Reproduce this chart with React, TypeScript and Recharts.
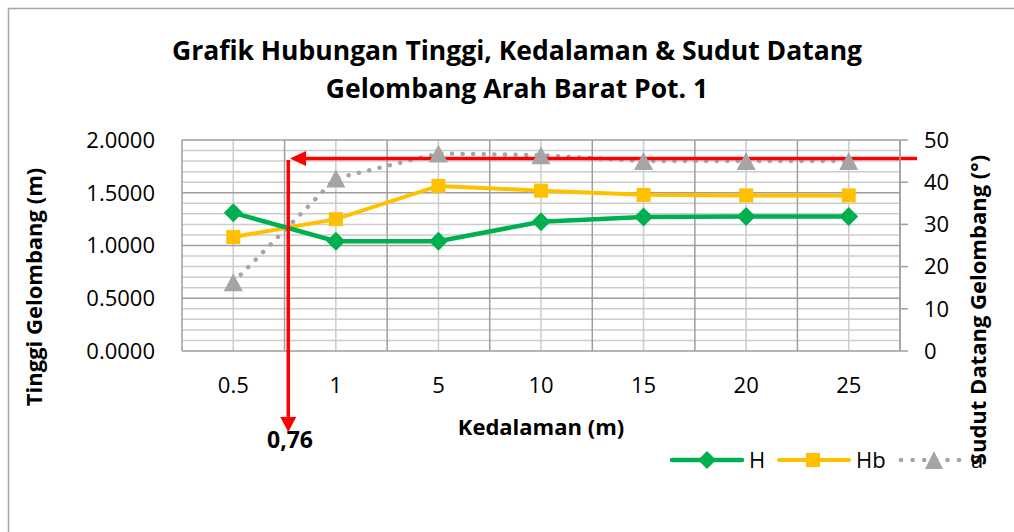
import React from 'react';
import {
  ComposedChart, Line, XAxis, YAxis, CartesianGrid, ReferenceLine, Customized,
} from 'recharts';

const categories = ['0.5', '1', '5', '10', '15', '20', '25'];
const hValues = [1.31, 1.04, 1.04, 1.225, 1.27, 1.275, 1.275];
const hbValues = [1.08, 1.25, 1.565, 1.52, 1.48, 1.475, 1.475];
const aValues = [16.3, 40.9, 46.8, 46.4, 45, 45, 45];

const leftTicks = [0, 0.5, 1, 1.5, 2];
const leftMinor = [0.1, 0.2, 0.3, 0.4, 0.6, 0.7, 0.8, 0.9, 1.1, 1.2, 1.3, 1.4, 1.6, 1.7, 1.8, 1.9];
const rightTicks = [0, 10, 20, 30, 40, 50];
const categoryIdx = [0, 1, 2, 3, 4, 5, 6];
const boundaries = [-0.5, 0.5, 1.5, 2.5, 3.5, 4.5, 5.5, 6.5];

// annotation: horizontal arrow at level, vertical arrow at 0,76 position
const annotLevel = 1.825;
const annotX = 0.536;
const annotTipX = 0.553;
const annotRightX = 6.666;
const annotTopY = 1.81;
const annotBottomY = -0.768;

const data = categories.map((c, i) => ({
  depth: c,
  idx: categoryIdx[i],
  H: hValues[i],
  Hb: hbValues[i],
  a: aValues[i],
}));

const FONT = '"Open Sans", sans-serif';
const GREEN = '#00b050';
const YELLOW = '#ffc000';
const GRAY = '#a5a5a5';
const RED = '#ff0000';

const Diamond = (p: any) => {
  const { cx, cy, index } = p;
  if (cx == null || cy == null) return <g key={`dm-${index}`} />;
  const r = 9.5;
  return (
    <path key={`dm-${index}`} d={`M${cx},${cy - r} L${cx + r},${cy} L${cx},${cy + r} L${cx - r},${cy} Z`} fill={GREEN} />
  );
};
const Square = (p: any) => {
  const { cx, cy, index } = p;
  if (cx == null || cy == null) return <g key={`sq-${index}`} />;
  const r = 7;
  return <rect key={`sq-${index}`} x={cx - r} y={cy - r} width={2 * r} height={2 * r} fill={YELLOW} />;
};
const Triangle = (p: any) => {
  const { cx, cy, index } = p;
  if (cx == null || cy == null) return <g key={`tr-${index}`} />;
  return (
    <path key={`tr-${index}`} d={`M${cx},${cy - 9} L${cx + 9.5},${cy + 9} L${cx - 9.5},${cy + 9} Z`} fill={GRAY} />
  );
};

const HArrow = (p: any) => {
  const { x1, y1, x2, y2 } = p;
  const len = 16;
  return (
    <g>
      <line x1={x1} y1={y1} x2={x2 + len - 2} y2={y2} stroke={RED} strokeWidth={3.5} />
      <polygon points={`${x2},${y2} ${x2 + len},${y2 - 7.5} ${x2 + len},${y2 + 7.5}`} fill={RED} />
    </g>
  );
};
const VArrow = (p: any) => {
  const { x1, y1, x2, y2 } = p;
  const len = 15;
  return (
    <g>
      <line x1={x1} y1={y1} x2={x2} y2={y2 - len + 2} stroke={RED} strokeWidth={3.5} />
      <polygon points={`${x2},${y2} ${x2 - 8},${y2 - len} ${x2 + 8},${y2 - len}`} fill={RED} />
    </g>
  );
};

const Decorations = () => (
  <g fontFamily={FONT}>
    <rect x={8.5} y={8.5} width={1100} height={600} fill="none" stroke="#a6a6a6" strokeWidth={1.5} />
    <text x={517} y={60} textAnchor="middle" fontSize={26.5} fontWeight="bold" fill="#000">
      Grafik Hubungan Tinggi, Kedalaman &amp; Sudut Datang
    </text>
    <text x={517} y={98} textAnchor="middle" fontSize={26.5} fontWeight="bold" fill="#000">
      Gelombang Arah Barat Pot. 1
    </text>
    <text transform="translate(42,287) rotate(-90)" textAnchor="middle" fontSize={22} fontWeight="bold" fill="#000">
      Tinggi Gelombang (m)
    </text>
    <text transform="translate(986,310) rotate(-90)" textAnchor="middle" fontSize={22} fontWeight="bold" fill="#000">
      Sudut Datang Gelombang (°)
    </text>
    <text x={541} y={435} textAnchor="middle" fontSize={22} fontWeight="bold" fill="#000">
      Kedalaman (m)
    </text>
    <text x={290} y={448} textAnchor="middle" fontSize={23} fontWeight="bold" fill="#000">
      0,76
    </text>
    {/* legend */}
    <g>
      <line x1={672} y1={460} x2={742} y2={460} stroke={GREEN} strokeWidth={4.5} strokeLinecap="round" />
      <path d="M707,451 L716,460 L707,469 L698,460 Z" fill={GREEN} />
      <text x={749} y={468} fontSize={22} fill="#000">H</text>
      <line x1={779} y1={460} x2={849} y2={460} stroke={YELLOW} strokeWidth={4} strokeLinecap="round" />
      <rect x={806} y={453} width={14} height={14} fill={YELLOW} />
      <text x={856} y={468} fontSize={22} fill="#000">Hb</text>
      <line x1={901} y1={460} x2={962} y2={460} stroke={GRAY} strokeWidth={4.5} strokeLinecap="round" strokeDasharray="0.1 11.5" />
      <path d="M934,451 L943,469 L925,469 Z" fill={GRAY} />
      <text x={971} y={468} fontSize={22} fill="#000">a</text>
    </g>
  </g>
);

export default function App() {
  return (
    <div style={{ position: 'absolute', left: 0, top: 0, width: 1014, height: 532, background: '#fff' }}>
      <ComposedChart
        width={1014}
        height={532}
        data={data}
        margin={{ top: 140, right: 54, left: 82, bottom: 121 }}
      >
        <XAxis
          xAxisId="cat"
          dataKey="depth"
          type="category"
          scale="band"
          axisLine={false}
          tickLine={false}
          tickSize={0}
          tickMargin={26}
          height={60}
          interval={0}
          tick={{ fontSize: 22, fill: '#000', fontFamily: FONT }}
        />
        <XAxis xAxisId="num" dataKey="idx" type="number" domain={[-0.5, 6.5]} allowDataOverflow interval={0} hide />
        <YAxis
          yAxisId="left"
          orientation="left"
          domain={[0, 2]}
          ticks={leftTicks}
          allowDataOverflow
          interval={0}
          width={100}
          axisLine={false}
          tickLine={false}
          tickSize={0}
          tickMargin={27}
          tickFormatter={(v: number) => v.toFixed(4)}
          tick={{ fontSize: 22, fill: '#000', fontFamily: FONT }}
        />
        <YAxis
          yAxisId="right"
          orientation="right"
          domain={[0, 50]}
          ticks={rightTicks}
          allowDataOverflow
          interval={0}
          width={60}
          axisLine={{ stroke: '#a0a0a0', strokeWidth: 1.5 }}
          tickLine={{ stroke: '#a0a0a0', strokeWidth: 1.5 }}
          tickSize={8}
          tickMargin={16}
          tick={{ fontSize: 22, fill: '#000', fontFamily: FONT }}
        />
        <CartesianGrid
          xAxisId="num"
          yAxisId="left"
          horizontalValues={leftMinor}
          verticalValues={categoryIdx}
          stroke="#cccccc"
          strokeWidth={1.5}
        />
        <CartesianGrid
          xAxisId="num"
          yAxisId="left"
          horizontalValues={leftTicks}
          verticalValues={boundaries}
          stroke="#9e9e9e"
          strokeWidth={1.5}
        />
        <Line
          xAxisId="cat"
          yAxisId="right"
          dataKey="a"
          stroke={GRAY}
          strokeWidth={4.5}
          strokeLinecap="round"
          strokeDasharray="0.1 10.5"
          dot={Triangle}
          activeDot={false}
          isAnimationActive={false}
        />
        <Line
          xAxisId="cat"
          yAxisId="left"
          dataKey="Hb"
          stroke={YELLOW}
          strokeWidth={4}
          dot={Square}
          activeDot={false}
          isAnimationActive={false}
        />
        <Line
          xAxisId="cat"
          yAxisId="left"
          dataKey="H"
          stroke={GREEN}
          strokeWidth={4.5}
          dot={Diamond}
          activeDot={false}
          isAnimationActive={false}
        />
        <ReferenceLine
          xAxisId="num"
          yAxisId="left"
          ifOverflow="visible"
          segment={[{ x: annotRightX, y: annotLevel }, { x: annotTipX, y: annotLevel }]}
          shape={HArrow}
        />
        <ReferenceLine
          xAxisId="num"
          yAxisId="left"
          ifOverflow="visible"
          segment={[{ x: annotX, y: annotTopY }, { x: annotX, y: annotBottomY }]}
          shape={VArrow}
        />
        <Customized component={Decorations} />
      </ComposedChart>
    </div>
  );
}
